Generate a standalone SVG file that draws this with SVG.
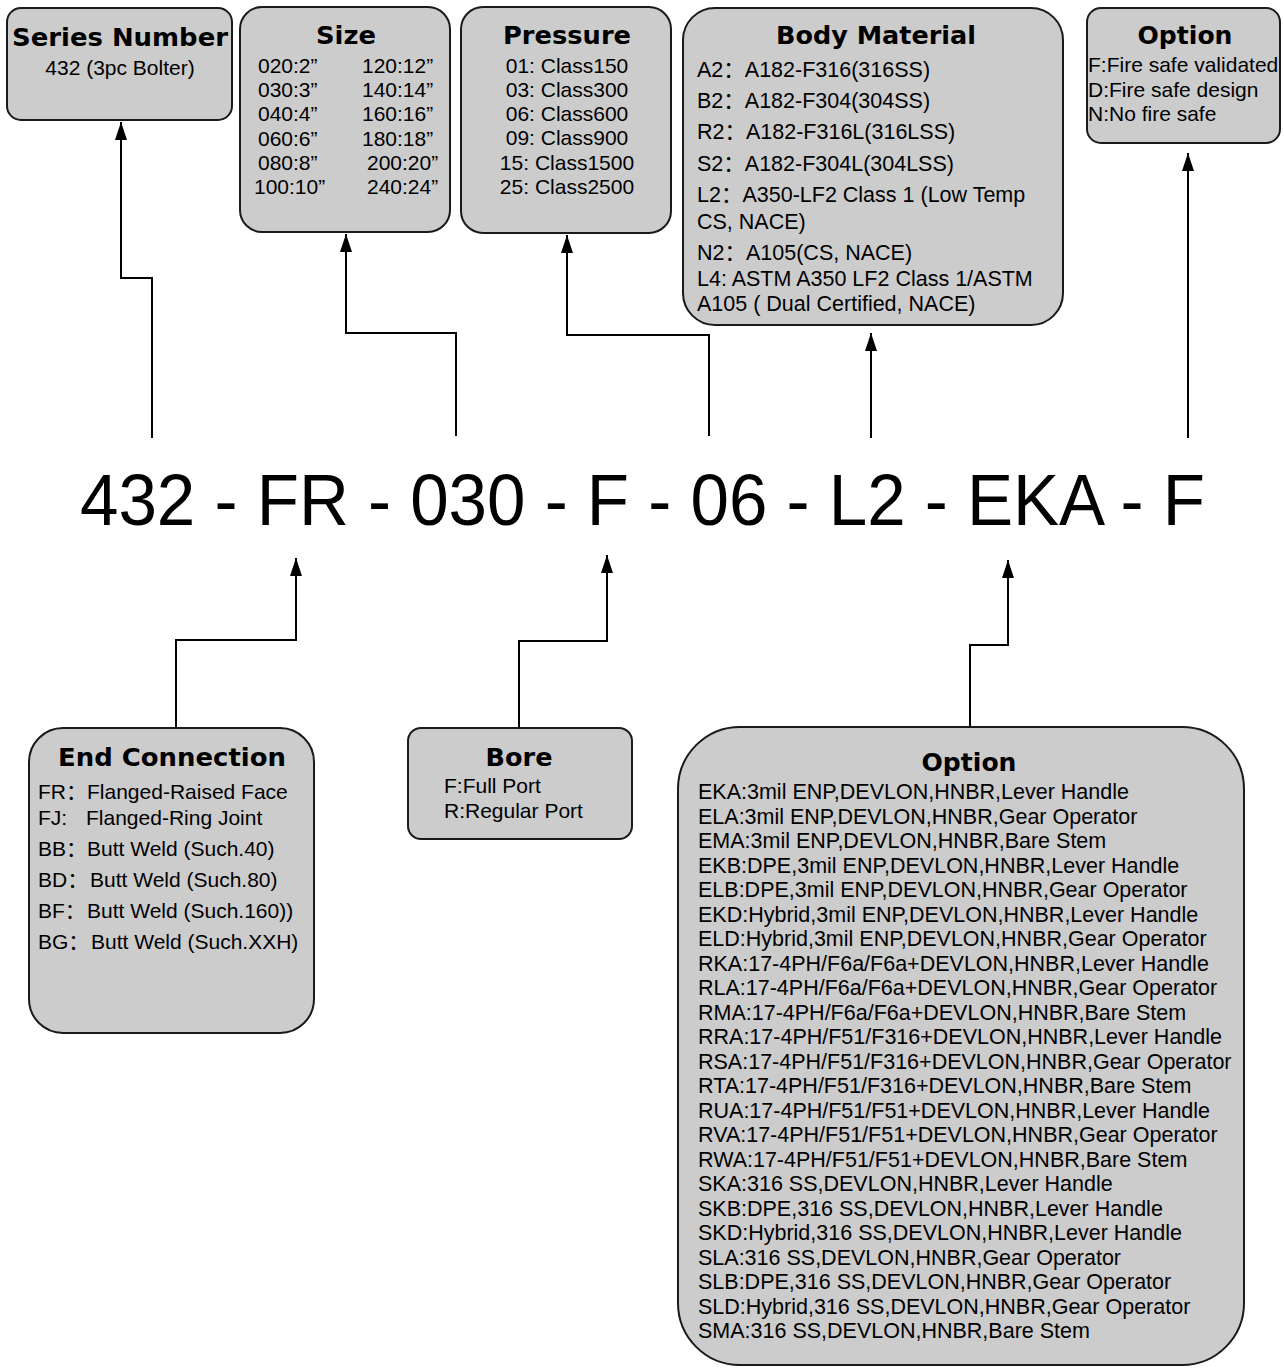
<svg xmlns="http://www.w3.org/2000/svg" width="1284" height="1368" viewBox="0 0 1284 1368">
<style>
.box{fill:#cccccc;stroke:#1a1a1a;stroke-width:2}
.t{font-family:"Liberation Sans",Arial,"Noto Sans CJK SC",sans-serif;font-size:21px;fill:#000}
.big{font-size:21.5px}
.h{font-family:"DejaVu Sans",sans-serif;font-weight:bold;font-size:25px;fill:#000;text-anchor:middle}
.c{text-anchor:middle}
.conn{fill:none;stroke:#000;stroke-width:2;marker-end:url(#ah)}
.code{font-family:"Liberation Sans",Arial,sans-serif;font-size:72px;fill:#000}
</style>
<defs>
<marker id="ah" viewBox="0 0 18 12" refX="18" refY="6" markerWidth="18" markerHeight="12" markerUnits="userSpaceOnUse" orient="auto"><path d="M0,0 L18,6 L0,12 z" fill="#000"/></marker>
</defs>
<rect width="1284" height="1368" fill="#fff"/>

<g id="series">
<rect class="box" x="7" y="8" width="225" height="112" rx="14"/>
<text class="h" x="120" y="46" textLength="216" lengthAdjust="spacingAndGlyphs">Series Number</text>
<text class="t c" x="120" y="75">432 (3pc Bolter)</text>
</g>

<g id="size">
<rect class="box" x="240" y="7" width="210" height="225" rx="22"/>
<text class="h" x="346" y="44" textLength="60" lengthAdjust="spacingAndGlyphs">Size</text>
<text class="t" x="258" y="73">020:2”</text><text class="t" x="362" y="73">120:12”</text>
<text class="t" x="258" y="97">030:3”</text><text class="t" x="362" y="97">140:14”</text>
<text class="t" x="258" y="121">040:4”</text><text class="t" x="362" y="121">160:16”</text>
<text class="t" x="258" y="146">060:6”</text><text class="t" x="362" y="146">180:18”</text>
<text class="t" x="258" y="170">080:8”</text><text class="t" x="367" y="170">200:20”</text>
<text class="t" x="254" y="194">100:10”</text><text class="t" x="367" y="194">240:24”</text>
</g>

<g id="pressure">
<rect class="box" x="461" y="7" width="210" height="226" rx="22"/>
<text class="h" x="567" y="44" textLength="128" lengthAdjust="spacingAndGlyphs">Pressure</text>
<text class="t c" x="567" y="73">01: Class150</text>
<text class="t c" x="567" y="97">03: Class300</text>
<text class="t c" x="567" y="121">06: Class600</text>
<text class="t c" x="567" y="145">09: Class900</text>
<text class="t c" x="567" y="170">15: Class1500</text>
<text class="t c" x="567" y="194">25: Class2500</text>
</g>

<g id="body">
<rect class="box" x="683" y="8" width="380" height="317" rx="32"/>
<text class="h" x="876" y="44" textLength="200" lengthAdjust="spacingAndGlyphs">Body Material</text>
<text class="t big" x="697" y="77">A2：A182-F316(316SS)</text>
<text class="t big" x="697" y="108">B2：A182-F304(304SS)</text>
<text class="t big" x="697" y="139">R2：A182-F316L(316LSS)</text>
<text class="t big" x="697" y="171">S2：A182-F304L(304LSS)</text>
<text class="t big" x="697" y="202">L2：A350-LF2 Class 1 (Low Temp</text>
<text class="t big" x="697" y="229">CS, NACE)</text>
<text class="t big" x="697" y="260">N2：A105(CS, NACE)</text>
<text class="t big" x="697" y="286">L4: ASTM A350 LF2 Class 1/ASTM</text>
<text class="t big" x="697" y="311">A105 ( Dual Certified, NACE)</text>
</g>

<g id="option-top">
<rect class="box" x="1087" y="8" width="193" height="135" rx="14"/>
<text class="h" x="1185" y="44" textLength="95" lengthAdjust="spacingAndGlyphs">Option</text>
<text class="t" x="1088" y="72">F:Fire safe validated</text>
<text class="t" x="1088" y="97">D:Fire safe design</text>
<text class="t" x="1088" y="121">N:No fire safe</text>
</g>

<g id="code">
<text class="code" x="80" y="525" textLength="1125" lengthAdjust="spacingAndGlyphs">432 - FR - 030 - F - 06 - L2 - EKA - F</text>
</g>

<g id="end-connection">
<rect class="box" x="29" y="728" width="285" height="305" rx="34"/>
<text class="h" x="172" y="766" textLength="228" lengthAdjust="spacingAndGlyphs">End Connection</text>
<text class="t" x="38" y="799">FR：Flanged-Raised Face</text>
<text class="t" x="38" y="825">FJ:<tspan x="86">Flanged-Ring Joint</tspan></text>
<text class="t" x="38" y="856">BB：Butt Weld (Such.40)</text>
<text class="t" x="38" y="887">BD：<tspan x="90">Butt Weld (Such.80)</tspan></text>
<text class="t" x="38" y="918">BF：<tspan x="87">Butt Weld (Such.160))</tspan></text>
<text class="t" x="38" y="949">BG：<tspan x="91">Butt Weld (Such.XXH)</tspan></text>
</g>

<g id="bore">
<rect class="box" x="408" y="728" width="224" height="111" rx="13"/>
<text class="h" x="519" y="766" textLength="67" lengthAdjust="spacingAndGlyphs">Bore</text>
<text class="t" x="444" y="793">F:Full Port</text>
<text class="t" x="444" y="818">R:Regular Port</text>
</g>

<g id="option-bottom">
<rect class="box" x="678" y="727" width="566" height="638" rx="62"/>
<text class="h" x="969" y="771" textLength="95" lengthAdjust="spacingAndGlyphs">Option</text>
<text class="t big" x="698" y="799">EKA:3mil ENP,DEVLON,HNBR,Lever Handle</text>
<text class="t big" x="698" y="823.5">ELA:3mil ENP,DEVLON,HNBR,Gear Operator</text>
<text class="t big" x="698" y="848">EMA:3mil ENP,DEVLON,HNBR,Bare Stem</text>
<text class="t big" x="698" y="872.5">EKB:DPE,3mil ENP,DEVLON,HNBR,Lever Handle</text>
<text class="t big" x="698" y="897">ELB:DPE,3mil ENP,DEVLON,HNBR,Gear Operator</text>
<text class="t big" x="698" y="921.5">EKD:Hybrid,3mil ENP,DEVLON,HNBR,Lever Handle</text>
<text class="t big" x="698" y="946">ELD:Hybrid,3mil ENP,DEVLON,HNBR,Gear Operator</text>
<text class="t big" x="698" y="970.5">RKA:17-4PH/F6a/F6a+DEVLON,HNBR,Lever Handle</text>
<text class="t big" x="698" y="995">RLA:17-4PH/F6a/F6a+DEVLON,HNBR,Gear Operator</text>
<text class="t big" x="698" y="1019.5">RMA:17-4PH/F6a/F6a+DEVLON,HNBR,Bare Stem</text>
<text class="t big" x="698" y="1044">RRA:17-4PH/F51/F316+DEVLON,HNBR,Lever Handle</text>
<text class="t big" x="698" y="1068.5">RSA:17-4PH/F51/F316+DEVLON,HNBR,Gear Operator</text>
<text class="t big" x="698" y="1093">RTA:17-4PH/F51/F316+DEVLON,HNBR,Bare Stem</text>
<text class="t big" x="698" y="1117.5">RUA:17-4PH/F51/F51+DEVLON,HNBR,Lever Handle</text>
<text class="t big" x="698" y="1142">RVA:17-4PH/F51/F51+DEVLON,HNBR,Gear Operator</text>
<text class="t big" x="698" y="1166.5">RWA:17-4PH/F51/F51+DEVLON,HNBR,Bare Stem</text>
<text class="t big" x="698" y="1191">SKA:316 SS,DEVLON,HNBR,Lever Handle</text>
<text class="t big" x="698" y="1215.5">SKB:DPE,316 SS,DEVLON,HNBR,Lever Handle</text>
<text class="t big" x="698" y="1240">SKD:Hybrid,316 SS,DEVLON,HNBR,Lever Handle</text>
<text class="t big" x="698" y="1264.5">SLA:316 SS,DEVLON,HNBR,Gear Operator</text>
<text class="t big" x="698" y="1289">SLB:DPE,316 SS,DEVLON,HNBR,Gear Operator</text>
<text class="t big" x="698" y="1313.5">SLD:Hybrid,316 SS,DEVLON,HNBR,Gear Operator</text>
<text class="t big" x="698" y="1338">SMA:316 SS,DEVLON,HNBR,Bare Stem</text>
</g>

<g id="connectors">
<path class="conn" d="M152,438 V278 H121 V122"/>
<path class="conn" d="M456,436 V333 H346 V234"/>
<path class="conn" d="M709,436 V335 H567 V235"/>
<path class="conn" d="M871,438 V333"/>
<path class="conn" d="M1188,438 V153"/>
<path class="conn" d="M176,727 V640 H296 V558"/>
<path class="conn" d="M519,728 V641 H607 V555"/>
<path class="conn" d="M970,727 V645 H1008 V560"/>
</g>
</svg>
